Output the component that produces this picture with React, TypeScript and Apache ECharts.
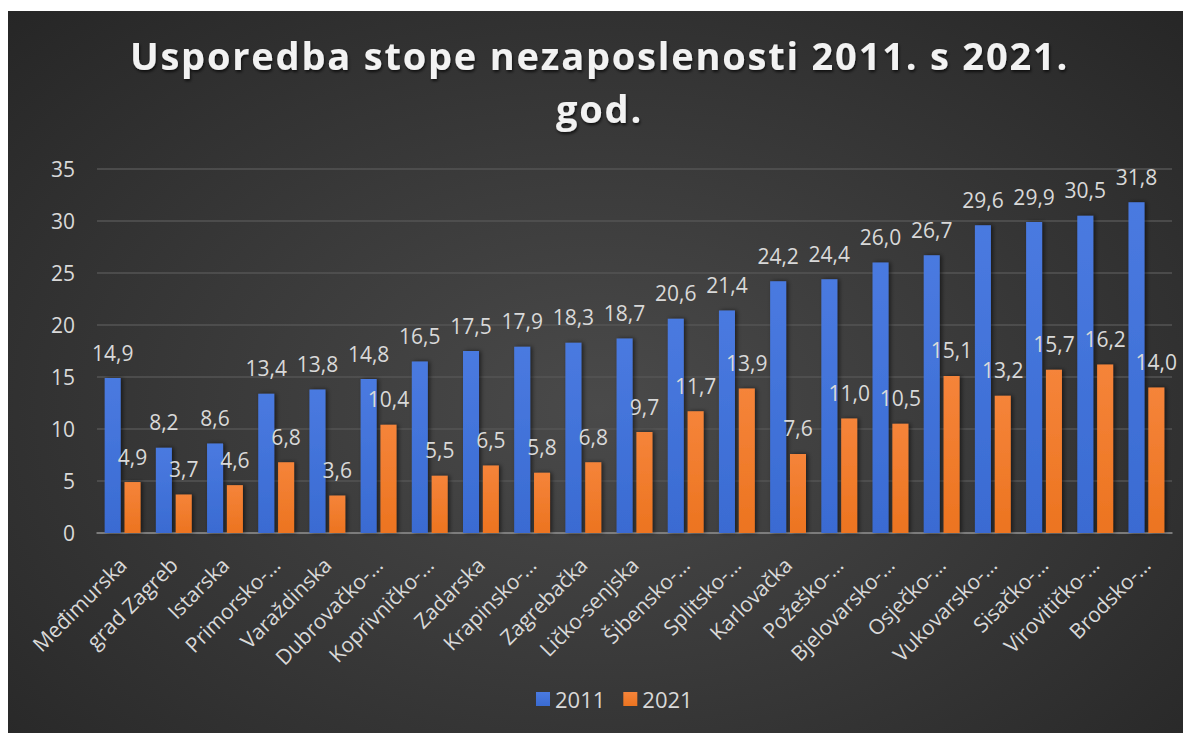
import React, { useEffect, useRef } from "react";
import * as echarts from "echarts";

const categories = [
  "Međimurska", "grad Zagreb", "Istarska", "Primorsko-…", "Varaždinska",
  "Dubrovačko-…", "Koprivničko-…", "Zadarska", "Krapinsko-…", "Zagrebačka",
  "Ličko-senjska", "Šibensko-…", "Splitsko-…", "Karlovačka", "Požeško-…",
  "Bjelovarsko-…", "Osječko-…", "Vukovarsko-…", "Sisačko-…", "Virovitičko-…", "Brodsko-…",
];
const values2011 = [14.9, 8.2, 8.6, 13.4, 13.8, 14.8, 16.5, 17.5, 17.9, 18.3, 18.7, 20.6, 21.4, 24.2, 24.4, 26.0, 26.7, 29.6, 29.9, 30.5, 31.8];
const values2021 = [4.9, 3.7, 4.6, 6.8, 3.6, 10.4, 5.5, 6.5, 5.8, 6.8, 9.7, 11.7, 13.9, 7.6, 11.0, 10.5, 15.1, 13.2, 15.7, 16.2, 14.0];
const seriesNames = ["2011", "2021"];
const titleText = "Usporedba stope nezaposlenosti 2011. s 2021.\ngod.";

const FONT = "'Open Sans', 'Noto Sans', sans-serif";
const fmt = (v: number) => v.toFixed(1).replace(".", ",");

export default function App() {
  const ref = useRef<HTMLDivElement>(null);
  useEffect(() => {
    if (!ref.current) return;
    const chart = echarts.init(ref.current, null, { renderer: "svg" });
    const label = {
      show: true,
      position: "top",
      distance: 15,
      color: "#d9d9d9",
      fontSize: 21,
      fontFamily: FONT,
      formatter: (p: any) => fmt(p.value),
    };
    const shadow = { shadowColor: "rgba(0,0,0,0.55)", shadowBlur: 4, shadowOffsetX: 2, shadowOffsetY: 0 };
    chart.setOption({
      animation: false,
      backgroundColor: "transparent",
      title: {
        text: titleText,
        left: "center",
        top: 12,
        textStyle: {
          color: "#f2f2f2",
          fontSize: 38,
          fontWeight: "bold",
          fontFamily: FONT,
          lineHeight: 53,
          textShadowColor: "rgba(0,0,0,0.7)",
          textShadowBlur: 3,
          textShadowOffsetX: 1,
          textShadowOffsetY: 2,
        },
      },
      legend: {
        data: seriesNames,
        bottom: 18,
        left: 523,
        itemWidth: 14,
        itemHeight: 14,
        itemGap: 18,
        icon: "rect",
        textStyle: { color: "#d9d9d9", fontSize: 22, fontFamily: FONT },
      },
      grid: { left: 89, right: 19, top: 158, bottom: 200, containLabel: false },
      xAxis: {
        type: "category",
        data: categories,
        axisLine: { lineStyle: { color: "#8c8c8c", width: 1.5 } },
        axisTick: { show: false },
        axisLabel: {
          rotate: 45,
          interval: 0,
          color: "#d9d9d9",
          fontSize: 21,
          fontFamily: FONT,
          margin: 28,
        },
      },
      yAxis: {
        type: "value",
        min: 0,
        max: 35,
        interval: 5,
        axisLine: { show: false },
        axisTick: { show: false },
        splitLine: { lineStyle: { color: "#555555", width: 1.5 } },
        axisLabel: { color: "#d9d9d9", fontSize: 21, fontFamily: FONT, margin: 22 },
      },
      series: [
        {
          name: seriesNames[0],
          type: "bar",
          data: values2011,
          barWidth: 16,
          barGap: "24%",
          itemStyle: {
            color: new echarts.graphic.LinearGradient(0, 0, 0, 1, [
              { offset: 0, color: "#4a7ae0" },
              { offset: 1, color: "#3a6bd2" },
            ]),
            ...shadow,
          },
          label,
        },
        {
          name: seriesNames[1],
          type: "bar",
          data: values2021,
          barWidth: 16,
          itemStyle: {
            color: new echarts.graphic.LinearGradient(0, 0, 0, 1, [
              { offset: 0, color: "#f5843a" },
              { offset: 1, color: "#ec7420" },
            ]),
            ...shadow,
          },
          label,
        },
      ],
    });
    return () => chart.dispose();
  }, []);
  return (
    <>
      <style>{`.chartbox text[style*="38px"] { letter-spacing: 1.8px; }`}</style>
      <div
        ref={ref}
        className="chartbox"
        style={{
          width: 1183,
          height: 722,
          marginTop: 3,
          background: "radial-gradient(ellipse at 50% 55%, #4a4a4a 0%, #3a3a3a 45%, #262626 100%)",
        }}
      />
    </>
  );
}
